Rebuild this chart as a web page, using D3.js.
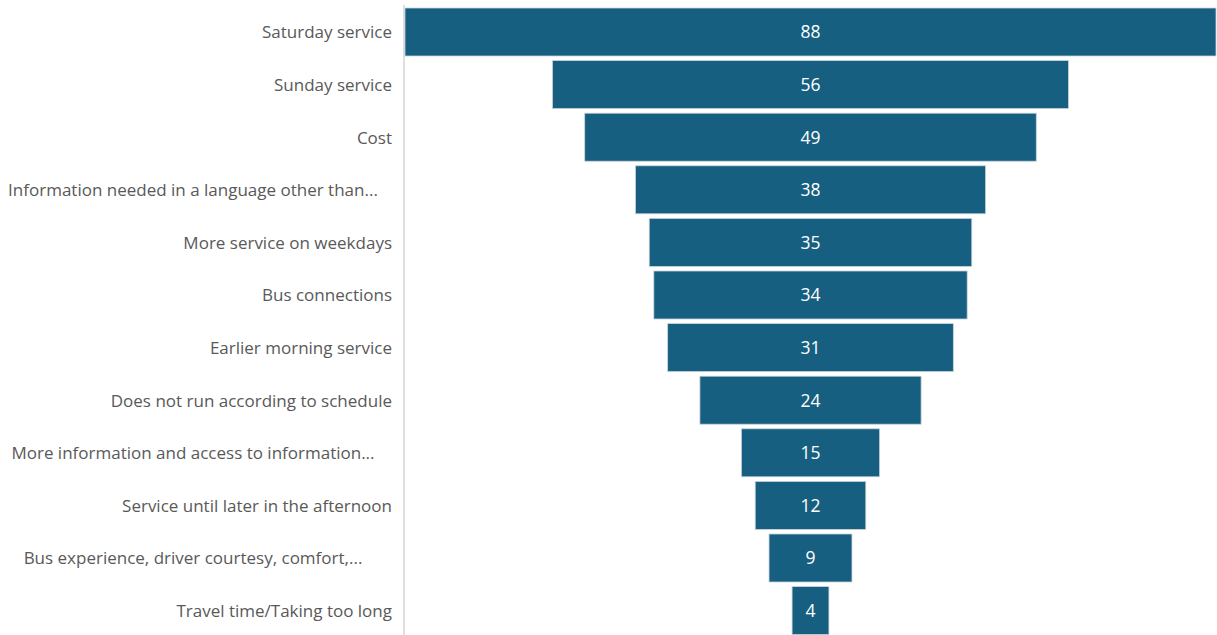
<!DOCTYPE html>
<html>
<head>
<meta charset="utf-8">
<script src="https://cdn.jsdelivr.net/npm/d3@7"></script>
<style>
  html, body { margin: 0; padding: 0; background: #ffffff; }
  svg { display: block; }
</style>
</head>
<body>
<svg id="chart" width="1217" height="635"></svg>
<script>
// Reasons given, ordered from most to fewest mentions
const categories = [
  "Saturday service",
  "Sunday service",
  "Cost",
  "Information needed in a language other than...",
  "More service on weekdays",
  "Bus connections",
  "Earlier morning service",
  "Does not run according to schedule",
  "More information and access to information...",
  "Service until later in the afternoon",
  "Bus experience, driver courtesy, comfort,...",
  "Travel time/Taking too long"
];
const values = [88, 56, 49, 38, 35, 34, 31, 24, 15, 12, 9, 4];

const W = 1217, H = 635;
const axisX = 404;            // category axis line
const plotLeft = 405, plotRight = 1216;
const centerX = (plotLeft + plotRight) / 2;

const svg = d3.select("#chart");

const y = d3.scaleBand()
  .domain(categories)
  .range([3.4, 639.2])
  .padding(0.0875);

const w = d3.scaleLinear()
  .domain([0, d3.max(values)])
  .range([0, plotRight - plotLeft]);

const rows = categories.map((c, i) => ({ cat: c, val: values[i] }));

// funnel bars, centred on the plot
svg.append("g").selectAll("rect")
  .data(rows)
  .join("rect")
  .attr("x", d => centerX - w(d.val) / 2)
  .attr("y", d => y(d.cat))
  .attr("width", d => w(d.val))
  .attr("height", y.bandwidth())
  .attr("fill", "#175f80")
  .attr("stroke", "#c9d3d9")
  .attr("stroke-width", 0.8);

// value labels
svg.append("g").selectAll("text")
  .data(rows)
  .join("text")
  .attr("x", centerX)
  .attr("y", d => y(d.cat) + y.bandwidth() / 2)
  .attr("dy", "0.37em")
  .attr("text-anchor", "middle")
  .attr("fill", "#ffffff")
  .style("font-family", "'Open Sans', sans-serif")
  .style("font-size", "17.5px")
  .text(d => d.val);

// category axis line
svg.append("line")
  .attr("x1", axisX).attr("x2", axisX)
  .attr("y1", 5).attr("y2", H)
  .attr("stroke", "#bfbfbf")
  .attr("stroke-width", 1);

// category labels: full labels right-aligned, shortened ones centred in the label area
const labelRight = 392, labelMid = 193;
svg.append("g").selectAll("text")
  .data(rows)
  .join("text")
  .attr("x", d => d.cat.endsWith("...") ? labelMid : labelRight)
  .attr("y", d => y(d.cat) + y.bandwidth() / 2)
  .attr("dy", "0.38em")
  .attr("text-anchor", d => d.cat.endsWith("...") ? "middle" : "end")
  .attr("fill", "#595959")
  .style("font-family", "'Open Sans', sans-serif")
  .style("font-size", "17px")
  .text(d => d.cat);
</script>
</body>
</html>
